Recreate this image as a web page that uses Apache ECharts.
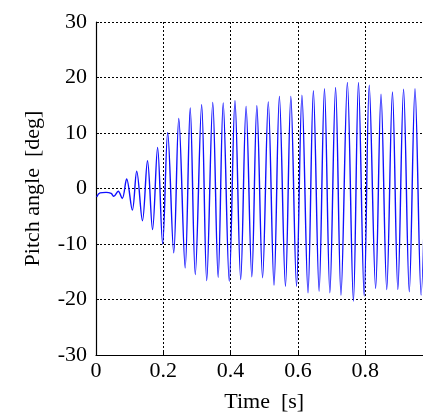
<!DOCTYPE html>
<html>
<head>
<meta charset="utf-8">
<script src="https://cdn.jsdelivr.net/npm/echarts@6/dist/echarts.min.js"></script>
<style>
html,body{margin:0;padding:0;background:#fff;overflow:hidden;width:423px;height:418px;}
#chart{width:433px;height:418px;}
</style>
</head>
<body>
<div id="chart"></div>
<script>
// Values
var xTicks = [0, 0.2, 0.4, 0.6, 0.8, 1.0];
var yTicks = [-30, -20, -10, 0, 10, 20, 30];
var startTimes  = [0.002, 0.012, 0.030, 0.045, 0.053, 0.066, 0.078];
var startValues = [-1.5, -0.8, -0.7, -0.9, -1.4, -0.5, -1.8];
var peakTimes = [0.091, 0.121, 0.153, 0.183, 0.213, 0.246, 0.280, 0.314, 0.347, 0.378, 0.413, 0.446, 0.478, 0.512, 0.545, 0.579, 0.612, 0.646, 0.679, 0.712, 0.747, 0.780, 0.812, 0.847, 0.881, 0.914, 0.948, 0.982];
var peakValues = [1.7, 3.1, 5.0, 7.4, 10.1, 12.6, 14.5, 15.1, 15.5, 15.4, 15.8, 14.8, 14.9, 15.6, 16.6, 16.6, 16.8, 17.6, 18.0, 18.2, 19.1, 19.1, 18.6, 17.0, 17.4, 17.9, 18.0, 18.1];
var troughTimes = [0.108, 0.138, 0.168, 0.198, 0.231, 0.265, 0.295, 0.329, 0.363, 0.396, 0.430, 0.463, 0.495, 0.529, 0.563, 0.596, 0.630, 0.663, 0.695, 0.728, 0.765, 0.797, 0.831, 0.864, 0.897, 0.931, 0.966];
var troughValues = [-3.9, -5.8, -7.4, -10.0, -11.6, -14.3, -15.5, -16.6, -16.0, -16.7, -16.4, -15.9, -16.1, -17.4, -17.6, -17.6, -18.8, -18.5, -18.8, -19.2, -20.3, -19.4, -18.0, -18.2, -18.2, -18.6, -19.2];

var pts = [];
startTimes.forEach(function(t,i){pts.push([t,startValues[i]]);});
peakTimes.forEach(function(t,i){pts.push([t,peakValues[i]]);});
troughTimes.forEach(function(t,i){pts.push([t,troughValues[i]]);});
pts.sort(function(a,b){return a[0]-b[0];});

var FONT = '"Liberation Serif","Times New Roman",serif';
var FS = 22;
var chart = echarts.init(document.getElementById('chart'), null, {renderer:'canvas'});
chart.setOption({
  animation:false,
  backgroundColor:'#fff',
  grid:{left:96, top:22, right:0.5, bottom:61, containLabel:false},
  xAxis:{
    type:'value', min:xTicks[0], max:xTicks[xTicks.length-1], interval:0.2,
    name:'Time  [s]', nameLocation:'middle', nameGap:36,
    nameTextStyle:{fontFamily:FONT, fontSize:FS, color:'#000'},
    axisLine:{show:true, onZero:false, lineStyle:{color:'#000', width:1.2}},
    axisTick:{show:true, inside:true, length:3, lineStyle:{color:'#000'}},
    axisLabel:{fontFamily:FONT, fontSize:FS, color:'#000', margin:5, showMaxLabel:false,
      formatter:function(v){return String(+v.toFixed(1));}},
    splitLine:{show:true, lineStyle:{color:'#000', type:[2,2], width:1}}
  },
  yAxis:{
    type:'value', min:yTicks[0], max:yTicks[yTicks.length-1], interval:10,
    name:'Pitch angle  [deg]', nameLocation:'middle', nameGap:52,
    nameTextStyle:{fontFamily:FONT, fontSize:FS, color:'#000'},
    axisLine:{show:true, onZero:false, lineStyle:{color:'#000', width:1.2}},
    axisTick:{show:true, inside:true, length:3, lineStyle:{color:'#000'}},
    axisLabel:{fontFamily:FONT, fontSize:FS, color:'#000', margin:9},
    splitLine:{show:true, lineStyle:{color:'#000', type:[2,2], width:1}}
  },
  series:[{
    type:'line', data:pts, showSymbol:false, smooth:0.35,
    lineStyle:{color:'#1010ff', width:1.4}
  }]
});
</script>
</body>
</html>
